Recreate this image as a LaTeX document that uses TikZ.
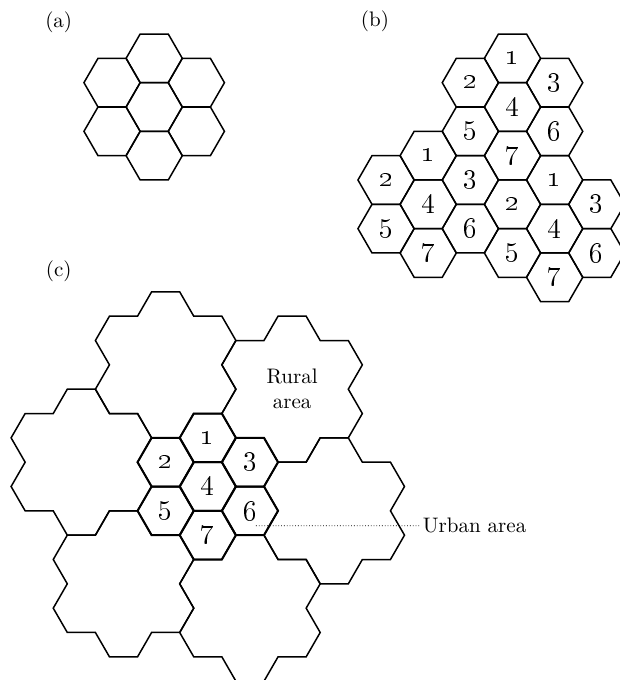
\documentclass[tikz,border=0pt]{standalone}
\usepackage{tikz}
\usetikzlibrary{shapes,positioning,calc}

\def\hexs{28.1}
\def\hexh{24.33}

\begin{document}
\begin{tikzpicture}[
    x=0.5pt, y=-0.5pt,
    font=\fontsize{10.5}{12.5}\selectfont,
    cell/.style={regular polygon, regular polygon sides=6, draw, line width=0.75pt, minimum size=28.1pt, inner sep=0pt, font=\fontsize{14}{16}\selectfont},
    outline/.style={draw, line width=0.75pt},
    panel/.style={inner sep=0pt}
]
    \useasboundingbox (0,0) rectangle (620,680);

    % (a) one cluster
    \node[panel] (taga) at (58.7,22.5) {(a)};
    \coordinate (ca) at (154.2,107);
    \foreach \n/\dx/\dy in {1/0/-2, 2/-1.5/-1, 3/1.5/-1, 4/0/0, 5/-1.5/1, 6/1.5/1, 7/0/2}
        \node[cell] (a\n) at ($(ca)+({\dx*\hexs},{\dy*\hexh})$) {};

    % (b) three clusters, numbered
    \node[panel] (tagb) at (375,21.7) {(b)};
    \coordinate (bt) at (512.5,107);
    \coordinate (bl) at ($(bt)+({-3*\hexs},{4*\hexh})$);
    \coordinate (br) at ($(bt)+({1.5*\hexs},{5*\hexh})$);
    \foreach \grp in {bt,bl,br}
        \foreach \n/\dx/\dy in {1/0/-2, 2/-1.5/-1, 3/1.5/-1, 4/0/0, 5/-1.5/1, 6/1.5/1, 7/0/2}
            \node[cell] (\grp\n) at ($(\grp)+({\dx*\hexs},{\dy*\hexh})$) {\oldstylenums{\n}};

    % (c) urban cluster with rural clusters around it
    \node[panel] (tagc) at (58.7,271) {(c)};
    \coordinate (cc) at (207.8,486.5);
    \foreach \dx/\dy in {-3/4, 1.5/5, 4.5/1, 3/-4, -1.5/-5, -4.5/-1}
        \draw[outline] ($(cc)+({\dx*\hexs},{\dy*\hexh})$) ++({2*\hexs},0)
            foreach \t in {30,90,...,330} { -- ++({\t+30}:\hexs) -- ++({\t+90}:\hexs) -- ++({\t+150}:\hexs) } -- cycle;
    \foreach \n/\dx/\dy in {1/0/-2, 2/-1.5/-1, 3/1.5/-1, 4/0/0, 5/-1.5/1, 6/1.5/1, 7/0/2}
        \node[cell, line width=1pt] (c\n) at ($(cc)+({\dx*\hexs},{\dy*\hexh})$) {\oldstylenums{\n}};

    \node[align=center] (rural) at ($(cc)+({3*\hexs},{-4*\hexh})$) {Rural\\area};
    \coordinate (urbanpt) at ($(c6)+(6,15)$);
    \node[anchor=west, inner sep=1.5pt] (urban) at (419.5,525.7) {Urban area};
    \draw[densely dotted, line width=0.4pt] (urbanpt) -- (urban.west);
\end{tikzpicture}
\end{document}
